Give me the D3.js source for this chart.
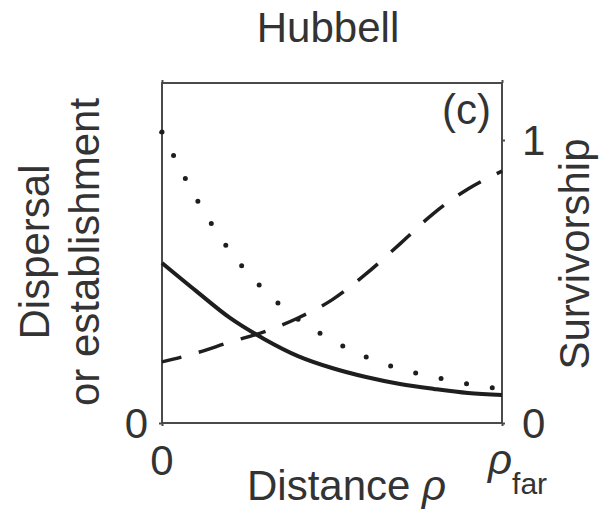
<!DOCTYPE html>
<html>
<head>
<meta charset="utf-8">
<script src="https://cdn.jsdelivr.net/npm/d3@7"></script>
<style>
  html, body { margin: 0; padding: 0; background: #fff; }
  svg text { font-family: "Liberation Sans", Arial, sans-serif; fill: #333; }
</style>
</head>
<body>
<svg id="chart" width="602" height="510"></svg>
<script>
// ---- data ----
const distance = [0, 0.1, 0.2, 0.3, 0.4, 0.5, 0.6, 0.7, 0.8, 0.9, 1.0];
// establishment (solid), left axis
const establishment = [0.550, 0.454, 0.361, 0.289, 0.230, 0.189, 0.158, 0.134, 0.117, 0.103, 0.096];
// dispersal (dotted), left axis
const dispersal = [1.000, 0.773, 0.591, 0.457, 0.357, 0.285, 0.227, 0.186, 0.158, 0.134, 0.117];
// survivorship (dashed), right axis
const survivorship = [0.216, 0.247, 0.286, 0.322, 0.371, 0.435, 0.527, 0.633, 0.742, 0.827, 0.890];

const xTickValues = [0, 1];
const xTickLabels = ["0", "ρfar"];
const leftTickValues = [0, 1];
const leftTickLabels = ["0", ""];
const rightTickValues = [0, 1];
const rightTickLabels = ["0", "1"];

const title = "Hubbell";
const panelLabel = "(c)";

// ---- layout ----
const svg = d3.select("#chart");
const L = 162, R = 502, T = 83, B = 423;

const x = d3.scaleLinear().domain([0, 1]).range([L, R]);
const yL = d3.scaleLinear().domain([0, 1]).range([B, 132]);
const yR = d3.scaleLinear().domain([0, 1]).range([B, 140]);

const axisColor = "#4a4a4a";
const lineColor = "#1e1e1e";

// box
svg.append("rect")
  .attr("x", L).attr("y", T).attr("width", R - L).attr("height", B - T)
  .attr("fill", "none").attr("stroke", axisColor).attr("stroke-width", 2);

// axes (ticks only; labels drawn separately)
function styleAxis(g) {
  g.select(".domain").remove();
  g.selectAll(".tick line").attr("stroke", axisColor).attr("stroke-width", 2);
  g.selectAll(".tick text").remove();
}
svg.append("g").attr("transform", `translate(${L},0)`)
  .call(d3.axisLeft(yL).tickValues(leftTickValues).tickSize(3)).call(styleAxis);
svg.append("g").attr("transform", `translate(${R},0)`)
  .call(d3.axisRight(yR).tickValues(rightTickValues).tickSize(3)).call(styleAxis);
svg.append("g").attr("transform", `translate(0,${B})`)
  .call(d3.axisBottom(x).tickValues(xTickValues).tickSize(3)).call(styleAxis);
svg.append("g").attr("transform", `translate(0,${T})`)
  .call(d3.axisTop(x).tickValues(xTickValues).tickSize(3)).call(styleAxis);

const fs = 42;

// left tick labels
leftTickValues.forEach((v, i) => {
  if (!leftTickLabels[i]) return;
  svg.append("text").attr("x", L - 14).attr("y", yL(v)).attr("dy", "0.36em")
    .attr("text-anchor", "end").attr("font-size", fs).text(leftTickLabels[i]);
});
// right tick labels
rightTickValues.forEach((v, i) => {
  svg.append("text").attr("x", R + 20).attr("y", yR(v)).attr("dy", "0.36em")
    .attr("text-anchor", "start").attr("font-size", fs).text(rightTickLabels[i]);
});
// bottom tick labels
svg.append("text").attr("x", x(xTickValues[0])).attr("y", 475)
  .attr("text-anchor", "middle").attr("font-size", fs).text(xTickLabels[0]);
const rf = svg.append("text").attr("x", x(xTickValues[1]) - 14).attr("y", 474)
  .attr("font-size", fs);
rf.append("tspan").attr("font-style", "italic").text("ρ");
rf.append("tspan").attr("font-size", 30).attr("dy", 20).text("far");

// x axis title
const xt = svg.append("text").attr("x", 247).attr("y", 500).attr("font-size", fs);
xt.append("tspan").text("Distance ");
xt.append("tspan").attr("font-style", "italic").text("ρ");

// title
svg.append("text").attr("x", 328).attr("y", 42).attr("text-anchor", "middle")
  .attr("font-size", fs).text(title);

// panel label
svg.append("text").attr("x", 491).attr("y", 124).attr("text-anchor", "end")
  .attr("font-size", fs).text(panelLabel);

// left y title (two lines)
svg.append("text").attr("transform", "translate(49,252) rotate(-90)")
  .attr("text-anchor", "middle").attr("font-size", fs).text("Dispersal");
svg.append("text").attr("transform", "translate(99,252) rotate(-90)")
  .attr("text-anchor", "middle").attr("font-size", fs).text("or establishment");
// right y title
svg.append("text").attr("transform", "translate(589,254) rotate(-90)")
  .attr("text-anchor", "middle").attr("font-size", fs).text("Survivorship");

// ---- curves ----
const lineL = (vals) => d3.line().x((d, i) => x(distance[i])).y(d => yL(d)).curve(d3.curveMonotoneX)(vals);
const lineR = (vals) => d3.line().x((d, i) => x(distance[i])).y(d => yR(d)).curve(d3.curveMonotoneX)(vals);

svg.append("path").attr("d", lineR(survivorship))
  .attr("fill", "none").attr("stroke", lineColor).attr("stroke-width", 3.5)
  .attr("stroke-dasharray", "26,18").attr("stroke-dashoffset", 6);

svg.append("path").attr("d", lineL(dispersal))
  .attr("fill", "none").attr("stroke", lineColor).attr("stroke-width", 5)
  .attr("stroke-linecap", "round").attr("stroke-dasharray", "0,26");

svg.append("path").attr("d", lineL(establishment))
  .attr("fill", "none").attr("stroke", lineColor).attr("stroke-width", 4);
</script>
</body>
</html>
